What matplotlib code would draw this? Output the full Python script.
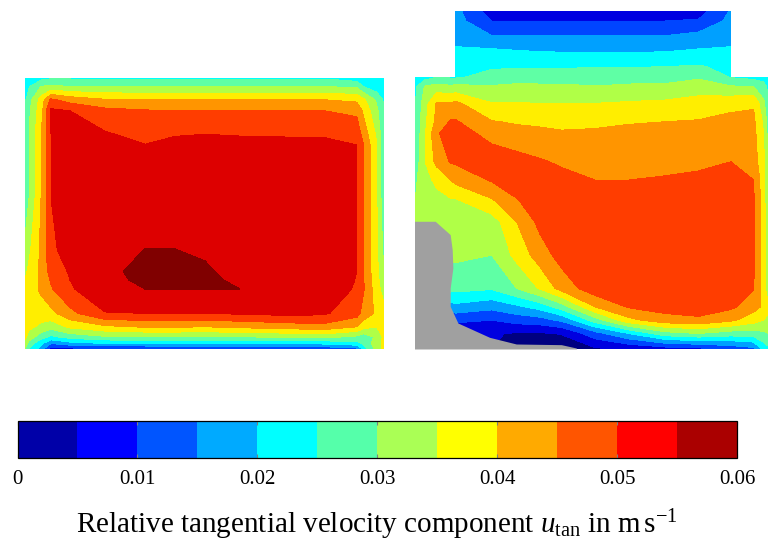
import numpy as np
import matplotlib
matplotlib.use('Agg')
import matplotlib.pyplot as plt
from matplotlib.cm import ScalarMappable
from matplotlib.colors import BoundaryNorm, ListedColormap

plt.rcParams['font.family'] = ['Liberation Serif']
plt.rcParams['mathtext.fontset'] = 'custom'
plt.rcParams['mathtext.rm'] = 'Liberation Serif'
plt.rcParams['mathtext.it'] = 'Liberation Serif:italic'

nan = np.nan

# contour levels and the colours of the two fields and of the colour bar
levels = np.arange(0, 0.0601, 0.005)
field_colors = ['#000080', '#0000e0', '#0045ff', '#00a0ff', '#00ffff', '#5fffa5',
                '#b0ff47', '#ffee00', '#ff9500', '#ff3d00', '#dd0000', '#800000']
bar_colors = ['#0000a8', '#0000ff', '#0055ff', '#00aaff', '#00ffff', '#55ffaa',
              '#aaff55', '#ffff00', '#ffaa00', '#ff5500', '#ff0000', '#aa0000']
tick_values = [0, 0.01, 0.02, 0.03, 0.04, 0.05, 0.06]
tick_labels = ['0', '0.01', '0.02', '0.03', '0.04', '0.05', '0.06']
bar_label = r'Relative tangential velocity component $u_{\mathrm{tan}}$ in m$\,$s$^{-1}$'

# left field, u_tan in 1e-3 m/s
left_x = [30, 42, 78, 108, 165, 270, 390, 480, 570, 670, 850, 930, 1025, 1045, 1085, 1105]
left_y = [38, 65, 105, 138, 208, 240, 400, 555, 620, 645, 672, 745, 785, 815, 835, 850]
left_u = [
    [20, 21, 23, 24, 24, 24, 24, 24, 24, 24, 24, 24, 22, 21, 20, 20],
    [22, 24.5, 30, 31, 30, 30, 30, 30, 30, 30, 30, 30, 29, 25, 22, 21],
    [24, 28, 37, 46, 43, 40.5, 40, 40, 40, 40, 40, 40, 39, 36, 29, 24.5],
    [25, 29, 38, 51, 50, 46.5, 45.5, 45, 45, 45, 45, 45, 44, 39, 31, 25.5],
    [26, 30, 39.5, 50, 52, 50.5, 48.5, 49.8, 50, 49.8, 49.6, 49.5, 48, 43, 34, 26.5],
    [26.5, 30, 40, 50, 52, 52, 50.1, 50.8, 51, 51, 51, 51, 50, 45, 35, 27],
    [27, 30, 40, 50, 53, 53, 53, 53, 53, 53, 53, 53, 50, 45, 35, 27],
    [31, 34, 41, 49, 52, 54, 55.05, 55.05, 54.5, 53.5, 53.5, 53, 50, 45, 36, 29],
    [34, 36, 41, 47, 50.5, 54, 56.2, 56.5, 55.5, 53.8, 53.5, 53, 50, 45, 36, 31],
    [35, 36.5, 41, 45.5, 50, 53.5, 56, 56, 55.5, 54.6, 53.3, 52.8, 49.8, 45.2, 36.5, 32],
    [36, 37, 41, 44.5, 49.5, 53, 55, 55.1, 55.1, 55.05, 53, 52.5, 49.5, 45.5, 37, 33],
    [36.5, 37, 37, 38.5, 43.5, 49.8, 50, 50, 50, 50.5, 51.5, 50.5, 47, 43, 39, 37],
    [36, 36, 34, 32, 36, 39, 40.5, 40.5, 40, 41, 42.5, 43, 40, 37, 35, 36],
    [36, 33, 27, 24, 27, 29.5, 30, 30, 30, 30, 31, 31.5, 29, 27, 31, 36],
    [33, 28, 21, 15, 18, 20, 20, 20, 20, 20, 20, 21, 23, 26, 33, 36],
    [30, 25, 18, 8, 9, 10, 10, 11, 12, 12, 12, 12, 14, 22, 32, 36],
]

# right field with the inlet on top, nan where there is no fluid above the box
right_x = [30, 60, 95, 137, 152, 260, 335, 405, 470, 570, 670, 780, 880, 977, 1045, 1075, 1088]
right_y = [18, 48, 92, 125, 185, 217, 245, 295, 350, 385, 470, 525, 590, 650, 750, 850, 905, 945, 985, 1030]
right_u = [
    [nan, nan, nan, nan, 16.5, 7.5, 7.5, 7.5, 7.5, 7.5, 7.5, 7.5, 7.8, 15.5, nan, nan, nan],
    [nan, nan, nan, nan, 17, 10, 10, 10, 10, 10, 10, 10, 10.5, 16.5, nan, nan, nan],
    [nan, nan, nan, nan, 18.5, 15, 15, 15, 15, 15, 15, 15, 16.5, 18.5, nan, nan, nan],
    [nan, nan, nan, nan, 20, 19.5, 19, 18.5, 18.3, 18, 18, 18.3, 19.3, 20, nan, nan, nan],
    [nan, nan, nan, nan, 22.5, 24.5, 24.5, 24.5, 24.5, 24.8, 24.8, 25, 25.5, 23.5, nan, nan, nan],
    [22, 23, 25, 24.5, 24.5, 26.5, 27.5, 27.5, 27.5, 27.5, 27.5, 28, 29.5, 24.8, 23.5, 23, 22],
    [24, 30.5, 32, 31, 31.5, 30.5, 31.2, 31, 31, 30.2, 31, 31, 32, 30.5, 30, 27, 24],
    [24.5, 33, 40.5, 40.5, 41, 35.2, 35.2, 35, 35, 35, 35.5, 36, 37.5, 38.5, 39.5, 31, 26],
    [25, 34, 41.5, 45.5, 45.5, 40.3, 39.5, 39, 38.7, 39.3, 39.7, 40, 40.3, 41.5, 41, 34, 28],
    [25.5, 34.5, 44.5, 47, 47, 43.5, 41.5, 41.2, 40.5, 40.5, 41, 41.5, 41.5, 42.5, 41.5, 35, 28.5],
    [26.5, 35, 41.5, 45.5, 45.6, 47.5, 47, 45.5, 44.3, 43, 43.5, 44, 43.5, 45, 42.5, 36, 29],
    [29, 33.5, 36, 40, 41.5, 45.5, 47.5, 47.5, 46.5, 45, 45, 45.3, 46.5, 47, 45, 37, 30],
    [30, 33, 33.5, 34, 34, 39, 44.5, 48, 48, 46.5, 47, 47, 48, 48, 45.5, 37, 30.5],
    [31.5, 33, 33, 33, 33, 32.5, 40, 46.5, 48, 47.5, 48, 48, 48.5, 48.5, 45.5, 37, 31],
    [33, 33, 33, 31, 31, 30, 36.5, 42.5, 47, 48, 48.5, 48.5, 48.5, 48.5, 45.5, 37, 31],
    [33, 33, 33, 26.5, 26.5, 25.5, 30, 35.5, 42, 48, 48.5, 48, 48.5, 48, 45.2, 37, 32],
    [18, 18, 18, 18, 18.5, 16.5, 19, 22, 27.5, 40, 45.5, 47, 47.5, 46, 42, 39, 36],
    [10, 10, 10, 10, 11, 10, 12, 13, 16, 27.5, 38.5, 43, 44, 41, 37, 35, 34],
    [6, 6, 6, 6, 6, 5.5, 4.5, 4.5, 5.2, 13, 20, 28, 30, 27.5, 28, 29, 30],
    [5, 5, 5, 5, 5, 5, 4, 3.5, 3, 4.5, 6, 8, 9, 12, 14, 22, 24],
]

# grey obstacle in the right field
obstacle_x = [30, 92, 137, 143, 145, 137, 137, 160, 255, 335, 470, 515, 515, 30]
obstacle_y = [650, 650, 690, 735, 790, 850, 905, 955, 998, 1018, 1020, 1030, 1033, 1033]


def pixel_axes(fig, left, top, right, bottom):
    #==========================================================================
    # Axes placed from pixel edges, measured from the top left of the picture
    w, h = fig.get_size_inches() * fig.dpi
    return fig.add_axes([left / w, 1 - bottom / h, (right - left) / w, (bottom - top) / h])


def draw_field(ax, x, y, u):
    #==========================================================================
    # Filled contours of one velocity field
    field = np.ma.masked_invalid(np.array(u, dtype=float) / 1000)
    ax.contourf(x, y, field, levels=levels, colors=field_colors, corner_mask=False)
    ax.set_xlim(x[0], x[-1])
    ax.set_ylim(y[-1], y[0])
    ax.axis('off')


fig = plt.figure(figsize=(7.68, 5.42), dpi=100)

ax_left = pixel_axes(fig, 25, 77.5, 383.5, 348.5)
draw_field(ax_left, left_x, left_y, left_u)

ax_right = pixel_axes(fig, 415, 11, 768, 348.5)
draw_field(ax_right, right_x, right_y, right_u)
ax_right.fill(obstacle_x, obstacle_y, color='#a0a0a0', lw=0, zorder=5, clip_on=False)

cax = pixel_axes(fig, 17.5, 421, 737, 458)
bar_map = ScalarMappable(norm=BoundaryNorm(levels, len(bar_colors)), cmap=ListedColormap(bar_colors))
bar = fig.colorbar(bar_map, cax=cax, orientation='horizontal', spacing='proportional', drawedges=False)
bar.set_ticks(tick_values, labels=tick_labels)
bar.minorticks_off()
bar.outline.set_linewidth(0.9)
cax.tick_params(axis='x', direction='in', length=3, width=0.8, color='#808080',
                top=True, bottom=True, labelsize=15, pad=9)
cax.set_xlabel(bar_label, fontsize=21, labelpad=13)

fig.savefig('out.png', dpi=100)
